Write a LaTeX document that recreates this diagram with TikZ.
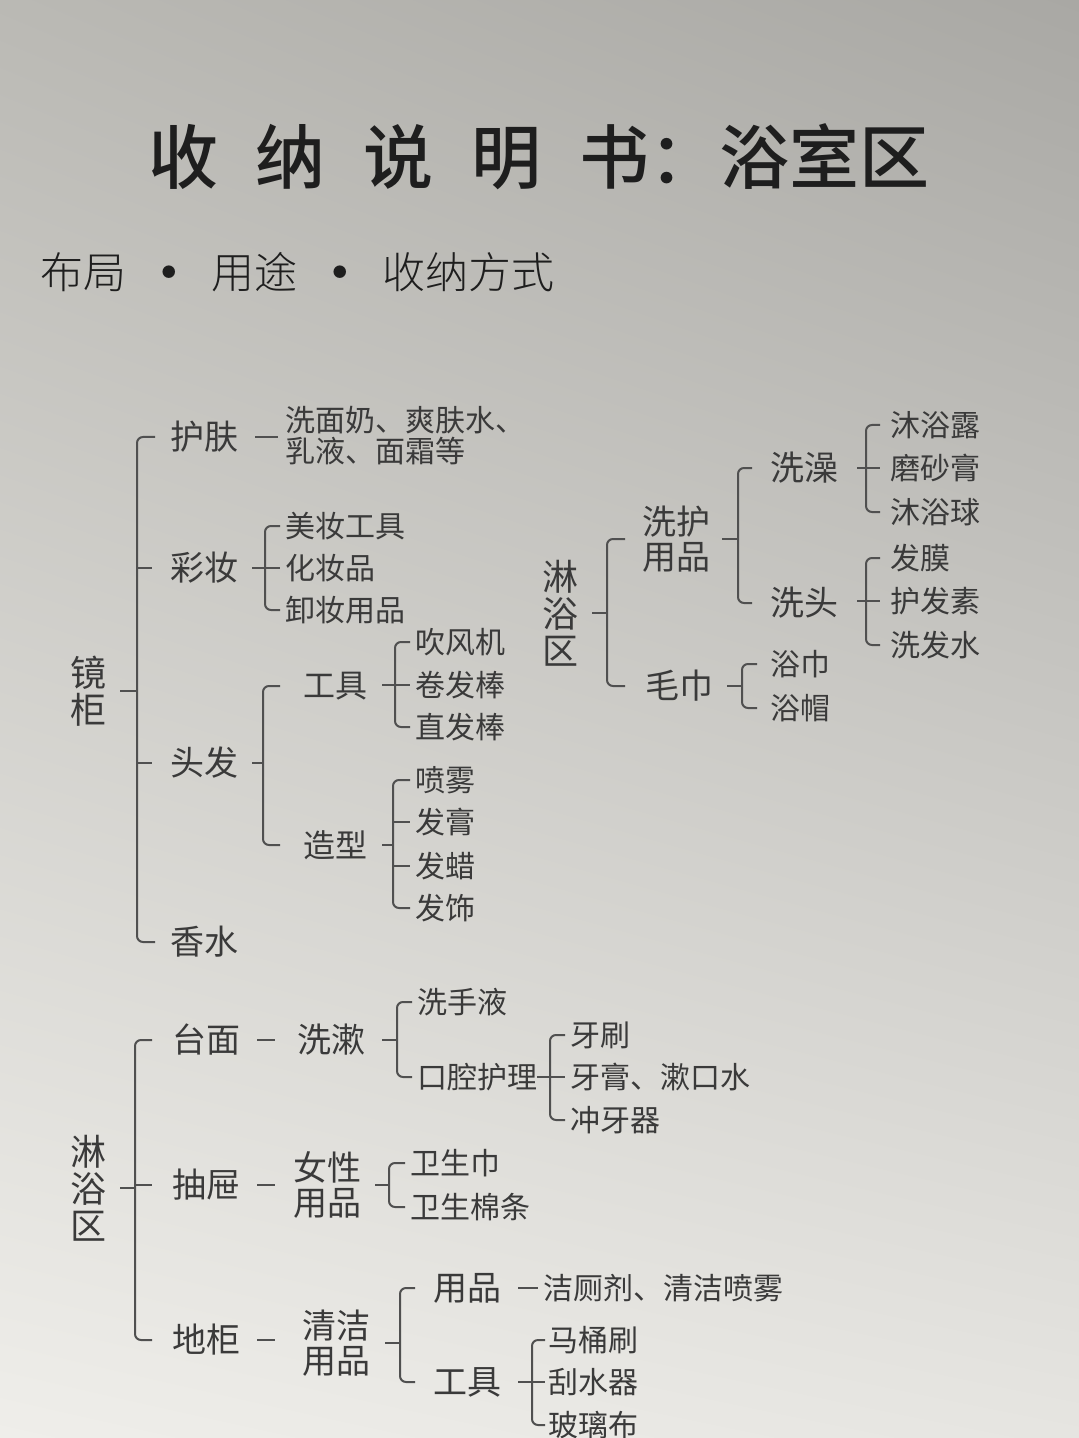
\documentclass[tikz,border=0pt]{standalone}
\usepackage{fontspec}
\setmainfont{Noto Sans CJK SC}
\newfontfamily\shouxie{Noto Sans CJK SC Light}
\newfontfamily\cuti{Noto Sans CJK SC Medium}
\usetikzlibrary{shadings}
\definecolor{bgul}{HTML}{BAB9B4}
\definecolor{bgur}{HTML}{A9A8A4}
\definecolor{bgll}{HTML}{EFEEEA}
\definecolor{bglr}{HTML}{E6E5E1}
\definecolor{biaozi}{HTML}{1E1E1E}
\definecolor{zi}{HTML}{3A3A3A}
\definecolor{xian}{HTML}{505050}
\tikzset{
  lnk/.style={xian, line width=1pt},
  brk/.style={lnk, rounded corners=3pt},
  yi/.style={inner sep=0pt, anchor=west, text=zi, align=left, font=\fontsize{17}{17.5}\selectfont},
  er/.style={yi, font=\fontsize{15}{15.5}\selectfont},
  zhong/.style={yi, font=\fontsize{16}{16.5}\selectfont},
  shu/.style={inner sep=0pt, text=zi, align=center, font=\fontsize{18}{18.5}\selectfont},
}
% #1 from x, #2 to x, #3 node giving y
\newcommand{\heng}[3]{\draw[lnk] (#1,0 |- #3.west) -- (#2,0 |- #3.west);}
% #1 bar x, #2 hook x, #3 top node, #4 bottom node
\newcommand{\kuo}[4]{\draw[brk] (#2,0 |- #3.west) -- (#1,0 |- #3.west) -- (#1,0 |- #4.west) -- (#2,0 |- #4.west);}
\newcommand{\dian}{\makebox[1em][c]{\raisebox{5.5pt}{\fontsize{7}{7}\selectfont ●}}}
\begin{document}
\begin{tikzpicture}[x=0.5pt,y=-0.5pt]
  \useasboundingbox (0,0) rectangle (1079,1438);
  \shade[upper left=bgul, upper right=bgur, lower left=bgll, lower right=bglr] (0,0) rectangle (1079,1438);

  % title
  \node[inner sep=0pt, text=biaozi, font=\cuti\fontsize{35}{35}\selectfont] (biaoti) at (539,157)
    {收\hspace{19pt}纳\hspace{19pt}说\hspace{19pt}明\hspace{19pt}书：浴室区};
  \node[inner sep=0pt, anchor=west, text=biaozi, font=\shouxie\fontsize{21.5}{21.5}\selectfont] (fubiaoti) at (40,272)
    {布局\hspace{10.5pt}\dian\hspace{10.5pt}用途\hspace{10.5pt}\dian\hspace{10.5pt}收纳方式};

  % 镜柜
  \node[shu] (jg) at (88,691) {镜\\柜};
  \node[yi] (hf) at (170,437) {护肤};
  \node[er] (hfx) at (285,436) {洗面奶、爽肤水、\\乳液、面霜等};
  \node[yi] (cz) at (170,568) {彩妆};
  \node[er] (mz1) at (285,526) {美妆工具};
  \node[er] (mz2) at (285,568) {化妆品};
  \node[er] (mz3) at (285,610) {卸妆用品};
  \node[yi] (tf) at (170,763) {头发};
  \node[zhong] (gj) at (303,686) {工具};
  \node[er] (cf) at (415,642) {吹风机};
  \node[er] (jf) at (415,685) {卷发棒};
  \node[er] (zf) at (415,727) {直发棒};
  \node[zhong] (zx) at (303,845) {造型};
  \node[er] (pw) at (415,780) {喷雾};
  \node[er] (fg) at (415,822) {发膏};
  \node[er] (fl) at (415,866) {发蜡};
  \node[er] (fs) at (415,908) {发饰};
  \node[yi] (xs) at (170,942) {香水};

  \heng{120}{137}{jg}
  \kuo{137}{155}{hf}{xs}
  \heng{137}{152}{cz}
  \heng{137}{152}{tf}
  \heng{255}{278}{hf}
  \heng{252}{280}{mz2}
  \kuo{265}{280}{mz1}{mz3}
  \heng{252}{263}{tf}
  \kuo{263}{280}{gj}{zx}
  \heng{382}{410}{jf}
  \kuo{395}{410}{cf}{zf}
  \heng{382}{393}{zx}
  \kuo{393}{410}{pw}{fs}
  \heng{393}{410}{fg}
  \heng{393}{410}{fl}

  % 淋浴区 (right)
  \node[shu] (ly) at (560,613) {淋\\浴\\区};
  \node[yi] (xh) at (642,539) {洗护\\用品};
  \node[yi] (xz) at (770,468) {洗澡};
  \node[er] (ml) at (890,425) {沐浴露};
  \node[er] (ms) at (890,468) {磨砂膏};
  \node[er] (mq) at (890,512) {沐浴球};
  \node[yi] (xt) at (770,603) {洗头};
  \node[er] (fm) at (890,558) {发膜};
  \node[er] (hfs) at (890,601) {护发素};
  \node[er] (xfs) at (890,645) {洗发水};
  \node[yi] (mj) at (645,686) {毛巾};
  \node[er] (yj) at (770,664) {浴巾};
  \node[er] (ym) at (770,708) {浴帽};

  \heng{592}{607}{ly}
  \kuo{607}{625}{xh}{mj}
  \heng{722}{738}{xh}
  \kuo{738}{752}{xz}{xt}
  \heng{857}{880}{ms}
  \kuo{866}{880}{ml}{mq}
  \heng{857}{880}{hfs}
  \kuo{866}{880}{fm}{xfs}
  \heng{727}{742}{mj}
  \kuo{742}{757}{yj}{ym}

  % 淋浴区 (bottom)
  \node[shu] (lyb) at (88,1188) {淋\\浴\\区};
  \node[yi] (tm) at (172,1040) {台面};
  \node[yi] (xsh) at (297,1040) {洗漱};
  \node[er] (xsy) at (417,1002) {洗手液};
  \node[er] (kq) at (417,1077) {口腔护理};
  \node[er] (ys) at (570,1035) {牙刷};
  \node[er] (yg) at (570,1077) {牙膏、漱口水};
  \node[er] (cy) at (570,1120) {冲牙器};
  \node[yi] (ct) at (172,1185) {抽屉};
  \node[yi] (nx) at (293,1185) {女性\\用品};
  \node[er] (wsj) at (410,1163) {卫生巾};
  \node[er] (wmt) at (410,1207) {卫生棉条};
  \node[yi] (dg) at (172,1340) {地柜};
  \node[yi] (qj) at (302,1343) {清洁\\用品};
  \node[yi] (yp) at (433,1288) {用品};
  \node[er] (jcj) at (543,1288) {洁厕剂、清洁喷雾};
  \node[yi] (gjb) at (433,1382) {工具};
  \node[er] (mt) at (548,1340) {马桶刷};
  \node[er] (gs) at (548,1382) {刮水器};
  \node[er] (bl) at (548,1425) {玻璃布};

  \heng{120}{135}{lyb}
  \kuo{135}{152}{tm}{dg}
  \heng{135}{152}{ct}
  \heng{257}{275}{tm}
  \heng{382}{397}{xsh}
  \kuo{397}{412}{xsy}{kq}
  \heng{537}{565}{yg}
  \kuo{550}{565}{ys}{cy}
  \heng{257}{275}{ct}
  \heng{375}{389}{nx}
  \kuo{389}{405}{wsj}{wmt}
  \heng{257}{275}{dg}
  \heng{385}{400}{qj}
  \kuo{400}{415}{yp}{gjb}
  \heng{518}{538}{yp}
  \heng{518}{545}{gs}
  \kuo{532}{545}{mt}{bl}
\end{tikzpicture}
\end{document}
